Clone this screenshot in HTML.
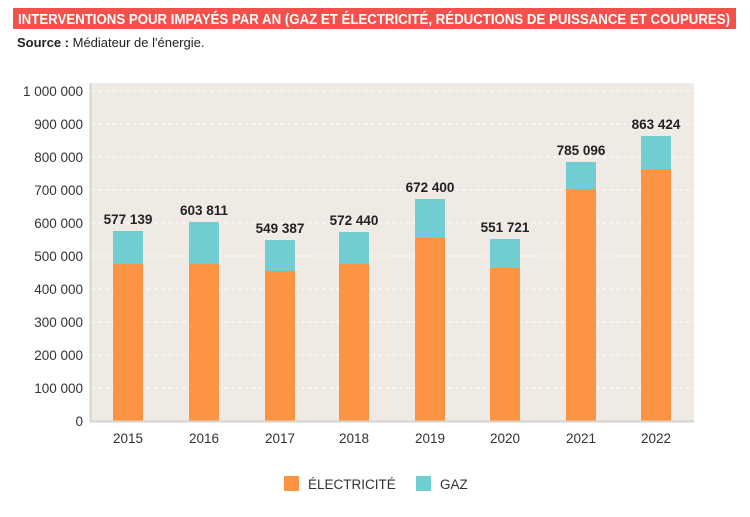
<!DOCTYPE html>
<html><head><meta charset="utf-8"><style>
body{margin:0;background:#fff;width:750px;height:512px;overflow:hidden;font-family:"Liberation Sans",sans-serif;}
</style></head><body>
<svg width="750" height="512" xmlns="http://www.w3.org/2000/svg" font-family="Liberation Sans, sans-serif">
<rect x="13" y="8" width="723" height="21" fill="#f0514a"/>
<text x="18" y="24" fill="#fff" font-size="14.5" font-weight="bold" textLength="712" lengthAdjust="spacingAndGlyphs">INTERVENTIONS POUR IMPAYÉS PAR AN (GAZ ET ÉLECTRICITÉ, RÉDUCTIONS DE PUISSANCE ET COUPURES)</text>
<text x="17" y="47" font-size="13" fill="#222"><tspan font-weight="bold">Source :</tspan> Médiateur de l'énergie.</text>
<rect x="90" y="83" width="604" height="338" fill="#efeae3"/>
<g stroke="#fff" stroke-dasharray="4,3" stroke-width="1">
<line x1="91" x2="694" y1="91" y2="91"/><line x1="91" x2="694" y1="124" y2="124"/><line x1="91" x2="694" y1="157" y2="157"/><line x1="91" x2="694" y1="190" y2="190"/><line x1="91" x2="694" y1="223" y2="223"/><line x1="91" x2="694" y1="256" y2="256"/><line x1="91" x2="694" y1="289" y2="289"/><line x1="91" x2="694" y1="322" y2="322"/><line x1="91" x2="694" y1="355" y2="355"/><line x1="91" x2="694" y1="388" y2="388"/>
</g>
<g font-size="13.5" fill="#333" text-anchor="end">
<text x="83" y="96">1 000 000</text><text x="83" y="129">900 000</text><text x="83" y="162">800 000</text><text x="83" y="195">700 000</text><text x="83" y="228">600 000</text><text x="83" y="261">500 000</text><text x="83" y="294">400 000</text><text x="83" y="327">300 000</text><text x="83" y="360">200 000</text><text x="83" y="393">100 000</text><text x="83" y="426">0</text>
</g>
<g fill="#72cdd3">
<rect x="113" y="231" width="30" height="190"/><rect x="189" y="222" width="30" height="199"/><rect x="265" y="240" width="30" height="181"/><rect x="339" y="232" width="30" height="189"/><rect x="415" y="199" width="30" height="222"/><rect x="490" y="239" width="30" height="182"/><rect x="566" y="162" width="30" height="259"/><rect x="641" y="136" width="30" height="285"/>
</g>
<g fill="#fd9443">
<rect x="113" y="264" width="30" height="157"/><rect x="189" y="264" width="30" height="157"/><rect x="265" y="271" width="30" height="150"/><rect x="339" y="264" width="30" height="157"/><rect x="415" y="238" width="30" height="183"/><rect x="490" y="268" width="30" height="153"/><rect x="566" y="189" width="30" height="232"/><rect x="641" y="169" width="30" height="252"/>
</g>
<line x1="90.5" y1="83" x2="90.5" y2="422" stroke="#d6d3cf" stroke-width="2"/>
<line x1="90" y1="421.5" x2="694" y1="421.5" y2="421.5" stroke="#d6d3cf" stroke-width="2"/>
<g font-size="13.5" font-weight="bold" fill="#222" text-anchor="middle">
<text x="128" y="224">577 139</text><text x="204" y="215">603 811</text><text x="280" y="233">549 387</text><text x="354" y="225">572 440</text><text x="430" y="192">672 400</text><text x="505" y="232">551 721</text><text x="581" y="155">785 096</text><text x="656" y="129">863 424</text>
</g>
<g font-size="13.5" fill="#333" text-anchor="middle">
<text x="128" y="443">2015</text><text x="204" y="443">2016</text><text x="280" y="443">2017</text><text x="354" y="443">2018</text><text x="430" y="443">2019</text><text x="505" y="443">2020</text><text x="581" y="443">2021</text><text x="656" y="443">2022</text>
</g>
<rect x="284" y="476" width="15" height="15" fill="#fd9443"/>
<text x="308" y="489" font-size="13.5" fill="#333">ÉLECTRICITÉ</text>
<rect x="416" y="476" width="15" height="15" fill="#72cdd3"/>
<text x="440" y="489" font-size="13.5" fill="#333">GAZ</text>
</svg>
</body></html>
